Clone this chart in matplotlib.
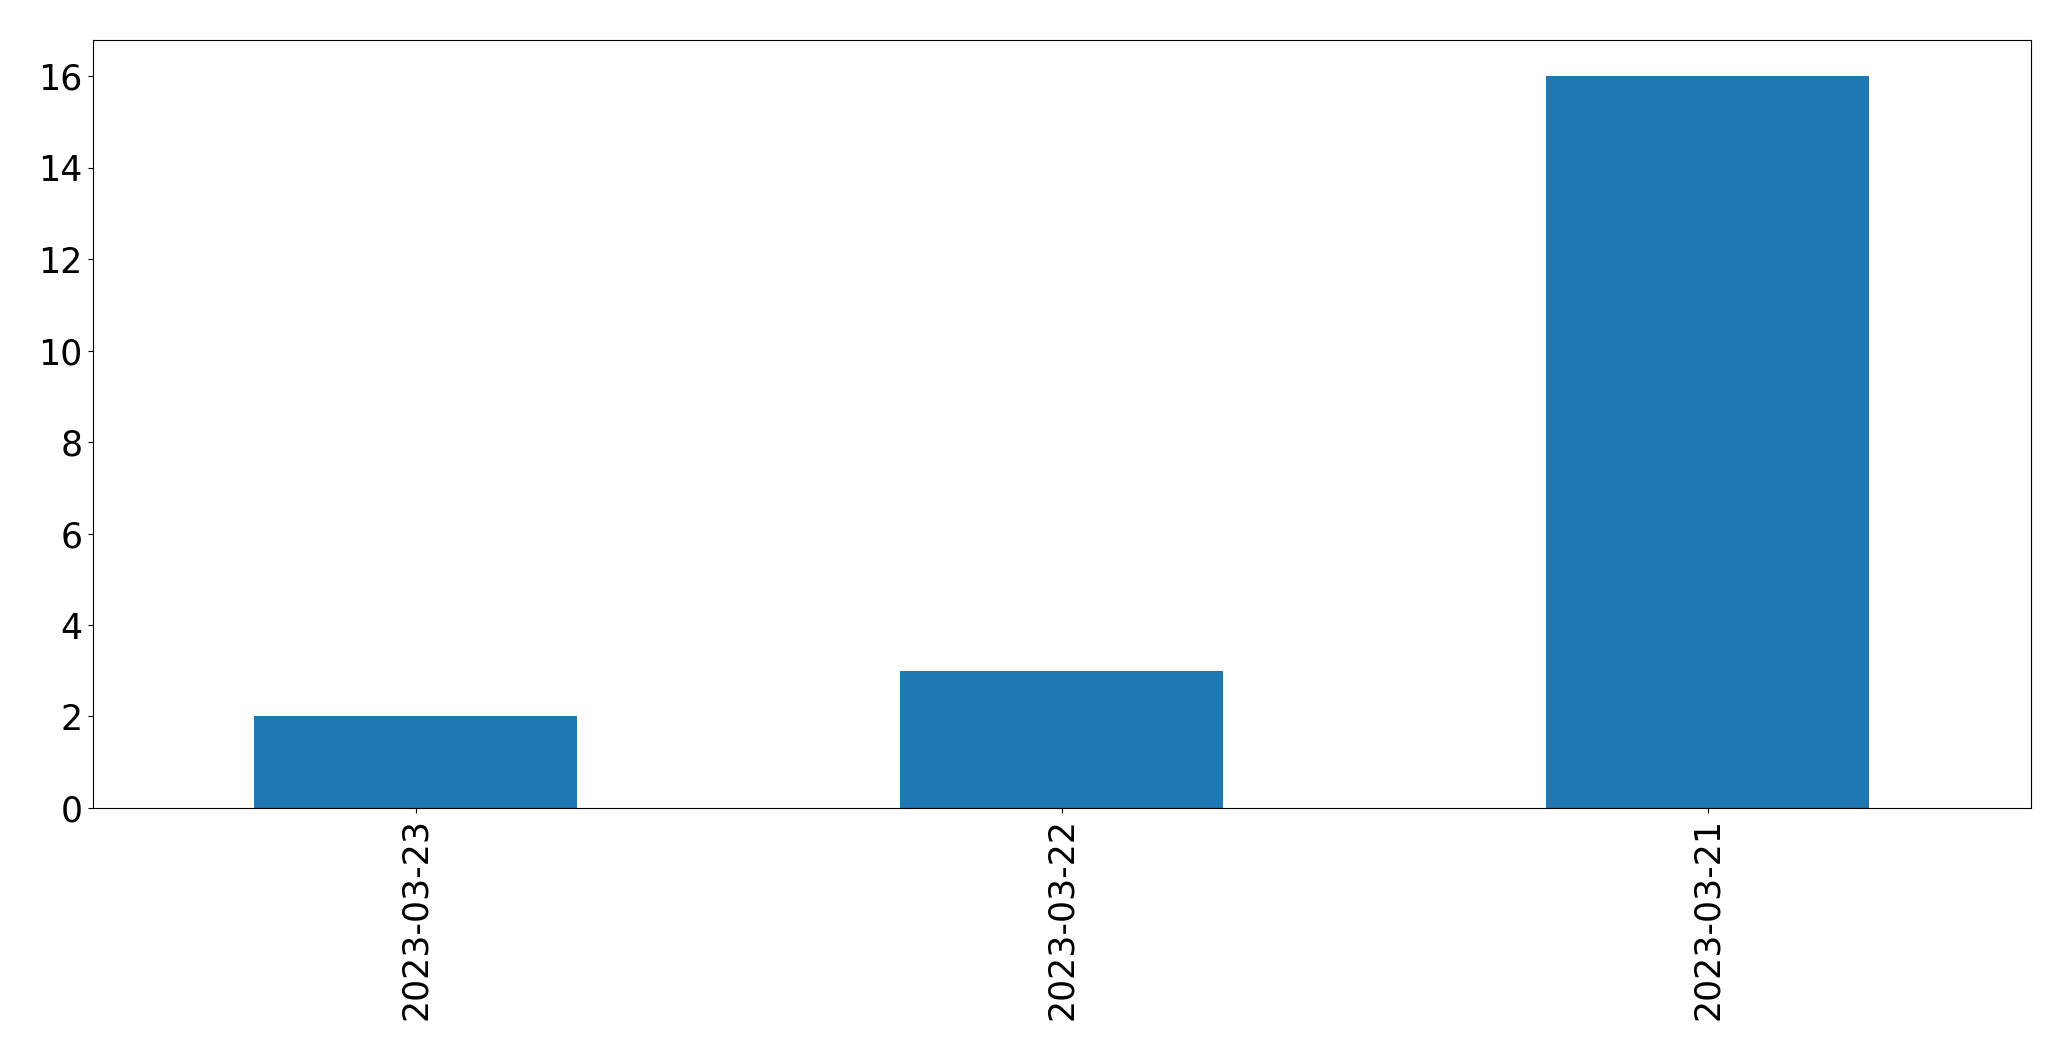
import matplotlib
matplotlib.use("Agg")
from matplotlib import pyplot as plt

dates = ["2023-03-23", "2023-03-22", "2023-03-21"]
counts = [2, 3, 16]

fig = plt.figure(figsize=(20.71, 10.61), dpi=100)
ax = fig.add_axes([0.0447, 0.2385, 0.936, 0.7242])

x = list(range(len(dates)))
ax.bar(x, counts, width=0.5, color="#1f77b4")
ax.set_xlim(-0.5, len(dates) - 0.5)
ax.set_ylim(0, max(counts) * 1.05)
ax.set_xticks(x)
ax.set_xticklabels(dates, rotation=90)
ax.tick_params(axis="both", labelsize=25)

fig.savefig("out.png", dpi=100)
